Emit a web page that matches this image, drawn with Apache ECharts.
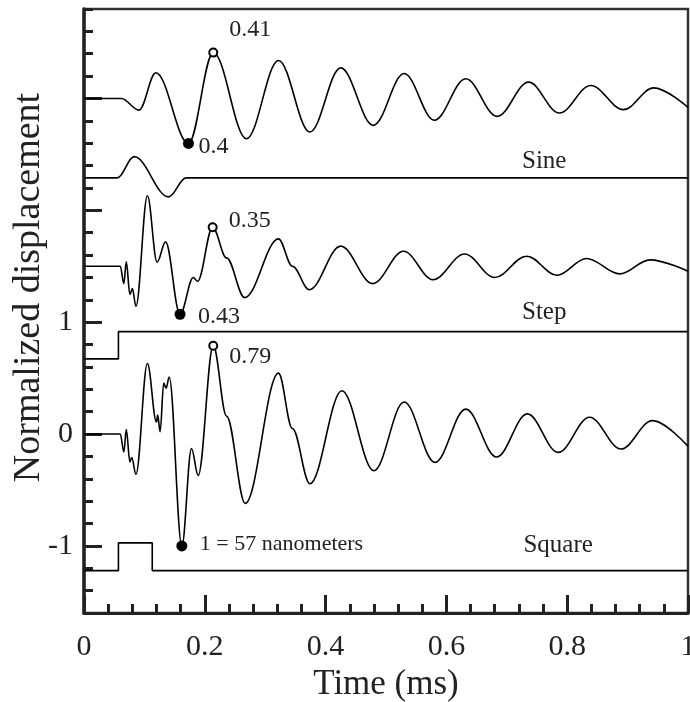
<!DOCTYPE html>
<html>
<head>
<meta charset="utf-8">
<script src="https://cdn.jsdelivr.net/npm/echarts@6/dist/echarts.min.js"></script>
<style>
html, body { margin: 0; padding: 0; background: #fff; }
#main { width: 690px; height: 702px; }
</style>
</head>
<body>
<div id="main"></div>
<script>
// [time (ms), displacement]; traces are stacked with offsets
var sineResp = [[0, 3.0], [0.062, 3.0], [0.091, 2.896], [0.119, 3.23], [0.173, 2.598], [0.214, 3.41],
	[0.269, 2.64], [0.322, 3.34], [0.374, 2.70], [0.425, 3.274], [0.479, 2.76], [0.530, 3.223],
	[0.580, 2.806], [0.632, 3.176], [0.684, 2.84], [0.736, 3.146], [0.787, 2.87], [0.839, 3.116],
	[0.893, 2.90], [0.943, 3.095], [1.0, 2.92]];
var stepResp = [[0, 1.5], [0.060, 1.5], [0.066, 1.345], [0.070, 1.54], [0.076, 1.247], [0.080, 1.30],
	[0.086, 1.143], [0.105, 2.13], [0.121, 1.536], [0.135, 1.718], [0.159, 1.071], [0.181, 1.40],
	[0.188, 1.366], [0.213, 1.848], [0.236, 1.575], [0.266, 1.22], [0.322, 1.745], [0.345, 1.50],
	[0.373, 1.29], [0.425, 1.68], [0.478, 1.345], [0.529, 1.634], [0.578, 1.38], [0.630, 1.61],
	[0.680, 1.40], [0.733, 1.59], [0.783, 1.42], [0.832, 1.57], [0.887, 1.432], [0.937, 1.557],
	[1.0, 1.455]];
var squareResp = [[0, 0], [0.060, 0], [0.066, -0.16], [0.070, 0.04], [0.076, -0.25], [0.079, -0.21],
	[0.086, -0.36], [0.105, 0.63], [0.120, 0.107], [0.122, 0.17], [0.126, 0.02], [0.132, 0.455],
	[0.136, 0.41], [0.141, 0.51], [0.162, -1.0], [0.178, -0.13], [0.189, -0.37], [0.214, 0.79],
	[0.236, 0.16], [0.267, -0.62], [0.322, 0.545], [0.345, 0.05], [0.374, -0.444], [0.427, 0.387],
	[0.480, -0.328], [0.530, 0.286], [0.581, -0.253], [0.632, 0.223], [0.683, -0.205], [0.734, 0.18],
	[0.785, -0.164], [0.837, 0.15], [0.889, -0.134], [0.941, 0.12], [1.0, -0.11]];

// input pulses
var sineInput = [[0, 2.29], [0.055, 2.29], [0.083, 2.48], [0.140, 2.12], [0.169, 2.29], [1.0, 2.29]];
var stepInput = [[0, 0.672], [0.057, 0.672], [0.057, 0.916], [1.0, 0.916]];
var squareInput = [[0, -1.221], [0.057, -1.221], [0.057, -0.973], [0.113, -0.973], [0.113, -1.221], [1.0, -1.221]];

// marked extremes
var peakPts = [[0.214, 3.41], [0.213, 1.848], [0.214, 0.79]];
var peakLabels = ['0.41', '0.35', '0.79'];
var troughPts = [[0.173, 2.598], [0.159, 1.071], [0.162, -1.0]];
var troughLabels = ['0.4', '0.43', '1 = 57 nanometers'];

var traceNames = ['Sine', 'Step', 'Square'];
var traceNamePts = [[0.762, 2.44], [0.762, 1.087], [0.785, -0.997]];

var yLabelValues = [-1, 0, 1];
var yMajorTicks = [-1, 0, 1, 2, 3];

var serif = "'Liberation Serif', 'DejaVu Serif', serif";
var ink = '#222';
var peakOffsets = [[11, -23], [11, -7], [11, 11]];
var troughOffsets = [[4.5, 3], [12.5, 2], [12.5, -2]];

function curve(data, smooth) {
	return {
		type: 'line',
		data: data,
		showSymbol: false,
		smooth: smooth ? 0.36 : false,
		smoothMonotone: 'x',
		lineStyle: { color: '#000', width: 1.6 },
		z: 3
	};
}

var myChart = echarts.init(document.getElementById('main'));
var option = {
	animation: false,
	backgroundColor: '#fff',
	grid: {
		left: 84, right: 2, top: 9, bottom: 89,
		outerBoundsMode: 'none',
		containLabel: false,
		show: true, borderColor: '#333', borderWidth: 2.5
	},
	xAxis: {
		type: 'value',
		min: 0, max: 1, interval: 0.2,
		name: 'Time (ms)',
		nameLocation: 'middle',
		nameGap: 42,
		nameTextStyle: { fontFamily: serif, fontSize: 35, color: ink },
		axisLine: { onZero: false, lineStyle: { color: ink, width: 3 } },
		axisTick: { inside: true, length: 18, lineStyle: { color: ink, width: 3 } },
		minorTick: { show: true, splitNumber: 5, length: 9, lineStyle: { color: ink, width: 3 } },
		splitLine: { show: false },
		axisLabel: { fontFamily: serif, fontSize: 30, color: ink, margin: 19 }
	},
	yAxis: [{
		type: 'value',
		min: -1.6, max: 3.8, interval: 0.2,
		position: 'left',
		name: 'Normalized displacement',
		nameLocation: 'middle',
		nameGap: 36,
		nameMoveOverlap: false,
		nameTextStyle: { fontFamily: serif, fontSize: 38, color: ink, padding: [0, 0, 0, 47] },
		axisLine: { onZero: false, lineStyle: { color: ink, width: 3.5 } },
		axisTick: { inside: true, length: 9, lineStyle: { color: ink, width: 3 } },
		splitLine: { show: false },
		axisLabel: {
			fontFamily: serif, fontSize: 30, color: ink, margin: 11,
			formatter: function (v) {
				var r = Math.round(v * 10) / 10;
				return yLabelValues.indexOf(r) >= 0 ? String(r) : '';
			}
		}
	}, {
		type: 'value',
		min: -1.6, max: 3.8,
		position: 'left', offset: 0,
		axisLine: { show: false, onZero: false },
		axisTick: { show: true, inside: true, length: 18, customValues: yMajorTicks, lineStyle: { color: ink, width: 3 } },
		axisLabel: { show: false },
		splitLine: { show: false }
	}],
	series: [
		curve(sineResp, true),
		curve(stepResp, true),
		curve(squareResp, true),
		curve(sineInput, true),
		curve(stepInput, false),
		curve(squareInput, false),
		{
			type: 'scatter',
			symbol: 'circle',
			symbolSize: 8,
			itemStyle: { color: '#fff', borderColor: '#000', borderWidth: 2, opacity: 1 },
			z: 5,
			data: peakPts.map(function (p, i) {
				return {
					value: p, name: peakLabels[i],
					label: { show: true, position: 'right', distance: 0, offset: peakOffsets[i], formatter: '{b}',
						fontFamily: serif, fontSize: 24, color: ink }
				};
			})
		},
		{
			type: 'scatter',
			symbol: 'circle',
			symbolSize: 11,
			itemStyle: { color: '#000', opacity: 1 },
			z: 5,
			data: troughPts.map(function (p, i) {
				return {
					value: p, name: troughLabels[i],
					label: { show: true, position: 'right', distance: 0, offset: troughOffsets[i], formatter: '{b}',
						fontFamily: serif, fontSize: i === 2 ? 22 : 24, color: ink }
				};
			})
		},
		{
			type: 'scatter',
			symbolSize: 1,
			itemStyle: { color: 'rgba(0,0,0,0)' },
			z: 5,
			label: { show: true, position: 'inside', formatter: '{b}', fontFamily: serif, fontSize: 25,
				color: ink, textBorderWidth: 0, opacity: 1 },
			data: traceNamePts.map(function (p, i) { return { value: p, name: traceNames[i] }; })
		}
	]
};
myChart.setOption(option);
</script>
</body>
</html>
